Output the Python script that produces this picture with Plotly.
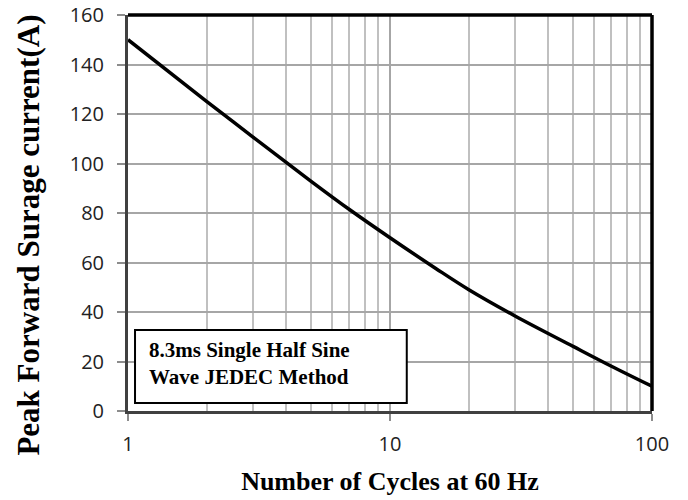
import plotly.graph_objects as go

# Data
cycles = [1, 2, 3, 5, 7, 10, 15, 20, 30, 50, 70, 100]
surge_current = [150, 125, 110.7, 92.8, 81.4, 70.0, 57.5, 49.0, 38.4, 26.1, 18.1, 10]

x_tick_vals = [1, 10, 100]
x_tick_text = ["1", "10", "100"]
x_minor_vals = [2, 3, 4, 5, 6, 7, 8, 9, 20, 30, 40, 50, 60, 70, 80, 90]
y_tick_vals = [0, 20, 40, 60, 80, 100, 120, 140, 160]

x_title = "Number of Cycles at 60 Hz"
y_title = "Peak Forward Surage current(A)"
note_text = "8.3ms Single Half Sine<br>Wave JEDEC Method"

fig = go.Figure()
fig.add_trace(go.Scatter(
    x=cycles, y=surge_current, mode="lines",
    line=dict(color="black", width=3.5, shape="spline", smoothing=1.0),
    showlegend=False, hoverinfo="skip",
))

serif_bold = dict(family="Liberation Serif", weight="bold", color="black")
tick_font = dict(family="Open Sans", size=20, color="#222222")

fig.update_layout(
    width=688, height=500,
    margin=dict(l=128, r=36, t=15, b=89),
    paper_bgcolor="white", plot_bgcolor="white",
    xaxis=dict(
        type="log", range=[0, 2], automargin=False,
        tickvals=x_tick_vals, ticktext=x_tick_text,
        ticks="outside", ticklen=7, tickwidth=1.5, tickcolor="#8c8c8c",
        tickfont=tick_font,
        showgrid=True, gridcolor="#A6A6A6", gridwidth=1.5,
        minor=dict(tickvals=x_minor_vals, showgrid=True, gridcolor="#C0C0C0", gridwidth=1.5, ticks=""),
        showline=True, linecolor="#404040", linewidth=3,
        zeroline=False,
        ticklabelstandoff=6,
        title=dict(text=x_title, font=dict(size=26, **serif_bold), standoff=16),
    ),
    yaxis=dict(
        range=[0, 160], tickvals=y_tick_vals, automargin=False,
        ticks="outside", ticklen=8, tickwidth=1.5, tickcolor="#8c8c8c",
        tickfont=tick_font,
        showgrid=True, gridcolor="#A6A6A6", gridwidth=1.5,
        showline=True, linecolor="#404040", linewidth=3,
        zeroline=False,
        ticklabelstandoff=9,
    ),
    shapes=[
        dict(type="line", xref="paper", yref="paper", x0=0, x1=1, y0=1, y1=1,
             line=dict(color="black", width=3.5)),
        dict(type="line", xref="paper", yref="paper", x0=1, x1=1, y0=0, y1=1,
             line=dict(color="black", width=3.5)),
        dict(type="rect", xref="paper", yref="paper", x0=0.0134, x1=0.532, y0=0.0202, y1=0.2045,
             line=dict(color="black", width=2), fillcolor="white", layer="above"),
    ],
    annotations=[
        dict(text=note_text, xref="paper", yref="paper", x=0.037, y=0.12,
             xanchor="left", yanchor="middle", align="left", showarrow=False,
             font=dict(size=21, **serif_bold)),
        dict(text=y_title, xref="paper", yref="paper", x=-0.19, y=0.444,
             xanchor="center", yanchor="middle", textangle=-90, showarrow=False,
             font=dict(size=31, **serif_bold)),
    ],
)

fig.write_html("out.html", config={"displayModeBar": False},
               post_script="document.body.style.margin='0px';")
